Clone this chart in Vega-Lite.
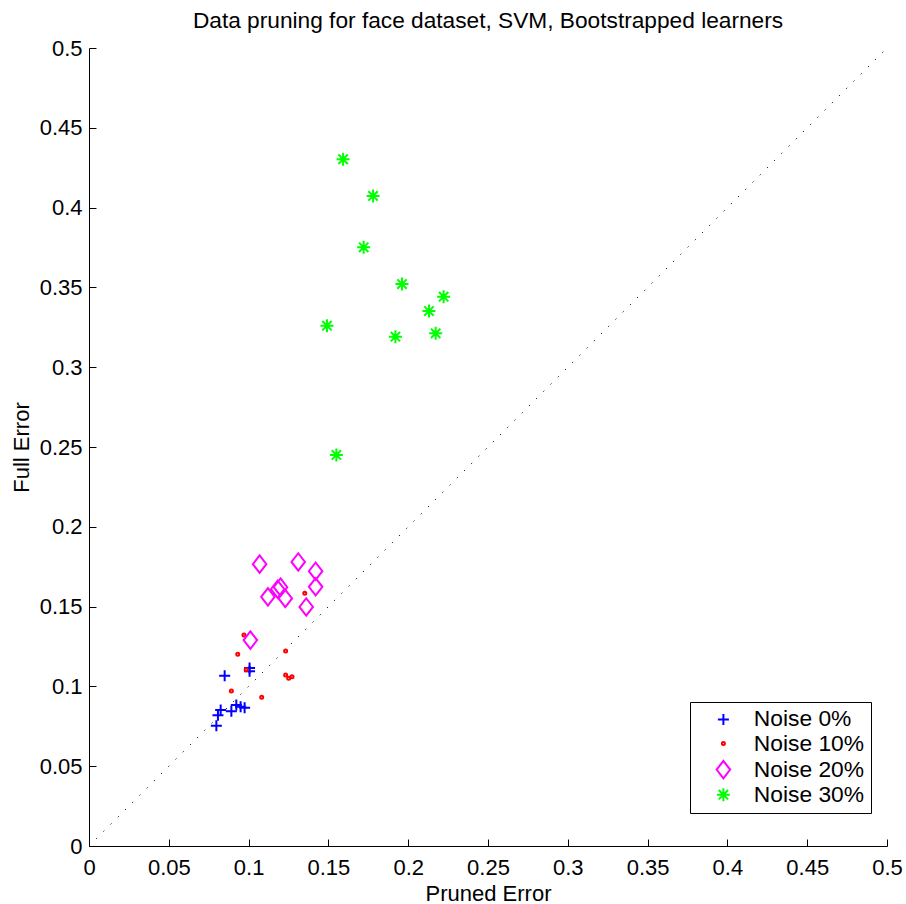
{
  "$schema": "https://vega.github.io/schema/vega-lite/v6.json",
  "autosize": {"type": "none"},
  "padding": {"left": 89, "top": 48, "right": 19, "bottom": 58},
  "width": 798,
  "height": 798,
  "background": "white",
  "title": {"text": "Data pruning for face dataset, SVM, Bootstrapped learners", "font": "Liberation Sans", "fontSize": 22.7, "fontWeight": "normal", "color": "black", "baseline": "bottom", "offset": -19, "anchor": "middle"},
  "config": {
    "view": {"stroke": null},
    "axis": {"domainColor": "black", "tickColor": "black", "labelColor": "black", "titleColor": "black", "labelFont": "Liberation Sans", "titleFont": "Liberation Sans", "labelFontSize": 22, "titleFontSize": 22, "titleFontWeight": "normal", "grid": false, "tickSize": -7, "domainWidth": 1, "tickWidth": 1},
    "legend": {"labelFont": "Liberation Sans", "labelFontSize": 22.8, "labelColor": "black"}
  },
  "layer": [
    {
      "data": {"values": [{"px": 0, "py": 0}, {"px": 0.5, "py": 0.5}]},
      "mark": {"type": "line", "color": "black", "strokeWidth": 1, "strokeDash": [1.2, 9]},
      "encoding": {
        "x": {"field": "px", "type": "quantitative", "scale": {"domain": [0, 0.5], "nice": false}},
        "y": {"field": "py", "type": "quantitative", "scale": {"domain": [0, 0.5], "nice": false}}
      }
    },
    {
      "data": {"values": [
        {"x": 0.1006, "y": 0.1115, "series": "Noise 0%"},
        {"x": 0.1006, "y": 0.1095, "series": "Noise 0%"},
        {"x": 0.085, "y": 0.1066, "series": "Noise 0%"},
        {"x": 0.0923, "y": 0.0883, "series": "Noise 0%"},
        {"x": 0.095, "y": 0.0872, "series": "Noise 0%"},
        {"x": 0.0975, "y": 0.0866, "series": "Noise 0%"},
        {"x": 0.0825, "y": 0.0852, "series": "Noise 0%"},
        {"x": 0.0808, "y": 0.082, "series": "Noise 0%"},
        {"x": 0.0798, "y": 0.0753, "series": "Noise 0%"},
        {"x": 0.0892, "y": 0.0845, "series": "Noise 0%"},
        {"x": 0.1352, "y": 0.1583, "series": "Noise 10%"},
        {"x": 0.0971, "y": 0.1322, "series": "Noise 10%"},
        {"x": 0.0932, "y": 0.1201, "series": "Noise 10%"},
        {"x": 0.1232, "y": 0.1222, "series": "Noise 10%"},
        {"x": 0.0985, "y": 0.1104, "series": "Noise 10%"},
        {"x": 0.0892, "y": 0.0971, "series": "Noise 10%"},
        {"x": 0.1232, "y": 0.1071, "series": "Noise 10%"},
        {"x": 0.1251, "y": 0.1051, "series": "Noise 10%"},
        {"x": 0.1272, "y": 0.1061, "series": "Noise 10%"},
        {"x": 0.1082, "y": 0.0932, "series": "Noise 10%"},
        {"x": 0.1069, "y": 0.1766, "series": "Noise 20%"},
        {"x": 0.1311, "y": 0.178, "series": "Noise 20%"},
        {"x": 0.142, "y": 0.1722, "series": "Noise 20%"},
        {"x": 0.142, "y": 0.1624, "series": "Noise 20%"},
        {"x": 0.1361, "y": 0.1498, "series": "Noise 20%"},
        {"x": 0.1011, "y": 0.129, "series": "Noise 20%"},
        {"x": 0.1121, "y": 0.1561, "series": "Noise 20%"},
        {"x": 0.1182, "y": 0.1609, "series": "Noise 20%"},
        {"x": 0.12, "y": 0.1622, "series": "Noise 20%"},
        {"x": 0.123, "y": 0.1551, "series": "Noise 20%"},
        {"x": 0.1592, "y": 0.4303, "series": "Noise 30%"},
        {"x": 0.178, "y": 0.4073, "series": "Noise 30%"},
        {"x": 0.1721, "y": 0.3751, "series": "Noise 30%"},
        {"x": 0.1961, "y": 0.3521, "series": "Noise 30%"},
        {"x": 0.2222, "y": 0.3442, "series": "Noise 30%"},
        {"x": 0.213, "y": 0.3352, "series": "Noise 30%"},
        {"x": 0.1491, "y": 0.326, "series": "Noise 30%"},
        {"x": 0.192, "y": 0.3191, "series": "Noise 30%"},
        {"x": 0.2172, "y": 0.3212, "series": "Noise 30%"},
        {"x": 0.155, "y": 0.245, "series": "Noise 30%"}
      ]},
      "mark": {"type": "point", "filled": false, "strokeWidth": 2, "opacity": 1},
      "encoding": {
        "x": {"field": "x", "type": "quantitative", "title": "Pruned Error",
              "scale": {"domain": [0, 0.5], "nice": false},
              "axis": {"values": [0, 0.05, 0.1, 0.15, 0.2, 0.25, 0.3, 0.35, 0.4, 0.45, 0.5], "format": "~g", "labelPadding": 18, "titlePadding": 5, "labelFlush": false}},
        "y": {"field": "y", "type": "quantitative", "title": "Full Error",
              "scale": {"domain": [0, 0.5], "nice": false},
              "axis": {"values": [0, 0.05, 0.1, 0.15, 0.2, 0.25, 0.3, 0.35, 0.4, 0.45, 0.5], "format": "~g", "labelPadding": 14, "titlePadding": 6, "labelFlush": false}},
        "color": {"field": "series", "type": "nominal",
                  "scale": {"domain": ["Noise 0%", "Noise 10%", "Noise 20%", "Noise 30%"], "range": ["#0000ff", "#ff0000", "#ff00ff", "#00ff00"]},
                  "legend": {"title": null, "orient": "none", "legendX": 601, "legendY": 654, "strokeColor": "black", "fillColor": "white", "padding": 6, "rowPadding": 0.1, "symbolOffset": 16, "labelOffset": 19, "symbolStrokeWidth": 2}},
        "shape": {"field": "series", "type": "nominal",
                  "scale": {"domain": ["Noise 0%", "Noise 10%", "Noise 20%", "Noise 30%"], "range": ["M-1,0H1M0,-1V1", "circle", "M0,-1L0.78,0L0,1L-0.78,0Z", "M-1,0H1M0,-1V1M-0.72,-0.72L0.72,0.72M-0.72,0.72L0.72,-0.72"]}},
        "size": {"field": "series", "type": "nominal",
                 "scale": {"type": "ordinal", "domain": ["Noise 0%", "Noise 10%", "Noise 20%", "Noise 30%"], "range": [121, 9, 300, 169]}}
      }
    }
  ]
}
